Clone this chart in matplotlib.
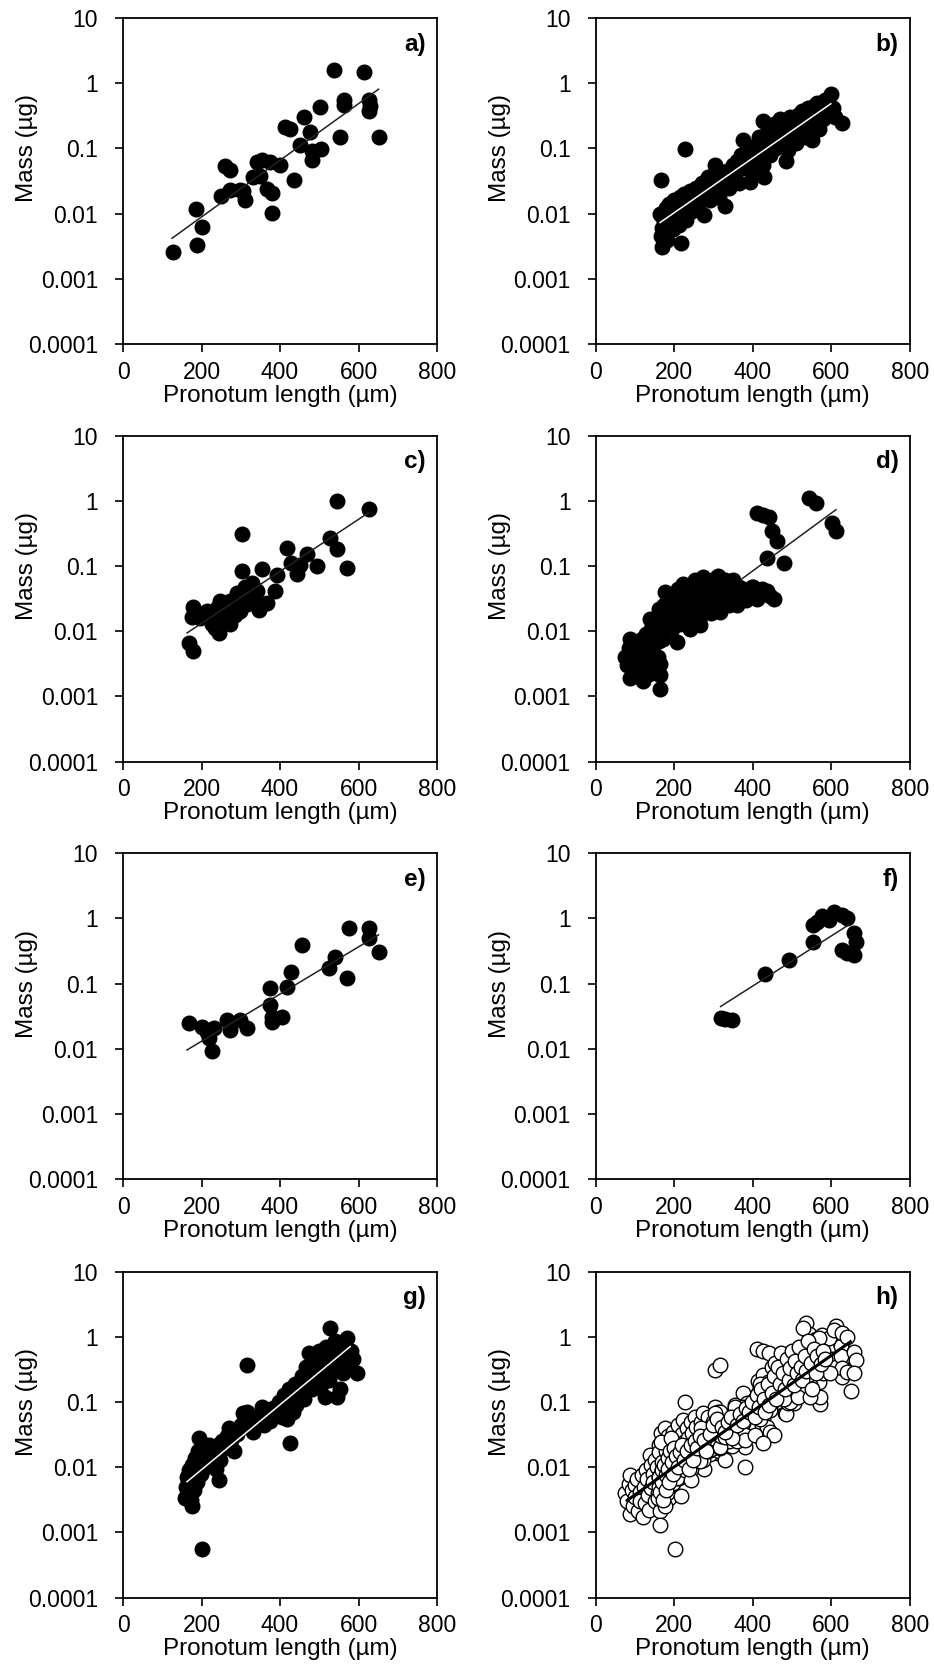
import matplotlib.pyplot as plt
import numpy as np

plt.rcParams['font.family'] = ['Liberation Sans', 'DejaVu Sans']

# a)
a_x = [127, 187, 188, 200, 250, 259, 272, 273, 297, 305, 312, 331, 341, 350, 354, 367, 375, 380, 380,
       401, 413, 426, 435, 452, 460, 477, 481, 481, 503, 504, 537, 552, 562, 562, 613, 626, 626, 628, 651]
a_y = [0.00255, 0.0118, 0.00334, 0.0062, 0.0188, 0.053, 0.046, 0.0233, 0.0233, 0.022, 0.0164, 0.037, 0.063,
       0.038, 0.067, 0.0238, 0.061, 0.0207, 0.0102, 0.056, 0.21, 0.20, 0.033, 0.114, 0.30, 0.177, 0.067,
       0.09, 0.43, 0.098, 1.61, 0.15, 0.56, 0.47, 1.47, 0.55, 0.37, 0.45, 0.15]
a_fit_x = [125, 651]
a_fit_y = [0.0042, 0.81]

# b)
b_x = [165, 166, 167, 168, 170, 172, 175, 178, 180, 182, 185, 188, 190, 195, 198, 200, 205, 210, 212, 215,
       217, 220, 225, 228, 230, 235, 240, 245, 250, 255, 260, 265, 270, 275, 280, 285, 290, 295, 300, 305,
       310, 315, 320, 325, 329, 335, 340, 345, 350, 355, 360, 365, 370, 376, 380, 385, 390, 393, 398, 400,
       405, 410, 415, 420, 425, 427, 430, 435, 440, 445, 450, 455, 460, 465, 470, 475, 480, 485, 491, 495,
       500, 505, 510, 515, 520, 525, 530, 535, 540, 545, 550, 555, 560, 565, 570, 575, 580, 585, 590, 599,
       605, 610, 627]
b_y = [0.010, 0.033, 0.0045, 0.0031, 0.006, 0.0085, 0.0052, 0.012, 0.0068, 0.0040, 0.0095, 0.014, 0.0075,
       0.011, 0.0058, 0.016, 0.009, 0.013, 0.0068, 0.018, 0.0036, 0.0105, 0.020, 0.099, 0.008, 0.015, 0.022,
       0.011, 0.017, 0.025, 0.013, 0.020, 0.030, 0.0095, 0.024, 0.036, 0.016, 0.028, 0.022, 0.056, 0.034,
       0.018, 0.040, 0.028, 0.0129, 0.045, 0.025, 0.035, 0.055, 0.040, 0.065, 0.030, 0.080, 0.136, 0.050,
       0.095, 0.060, 0.031, 0.085, 0.045, 0.11, 0.070, 0.15, 0.090, 0.055, 0.26, 0.037, 0.12, 0.20, 0.080,
       0.15, 0.24, 0.10, 0.18, 0.28, 0.13, 0.22, 0.065, 0.095, 0.30, 0.16, 0.25, 0.12, 0.33, 0.20, 0.38,
       0.28, 0.15, 0.42, 0.22, 0.136, 0.45, 0.30, 0.50, 0.20, 0.38, 0.28, 0.55, 0.35, 0.69, 0.42, 0.30, 0.245]
b_fit_x = [164, 599]
b_fit_y = [0.0073, 0.485]

# c)
c_x = [167, 178, 178, 176, 197, 214, 218, 227, 231, 235, 240, 244, 248, 252, 265, 273, 273, 282, 286, 290,
       295, 299, 303, 303, 312, 316, 321, 329, 333, 341, 346, 354, 367, 388, 392, 418, 427, 444, 452, 469,
       494, 528, 545, 545, 571, 626]
c_y = [0.0066, 0.0049, 0.0234, 0.0166, 0.016, 0.0205, 0.016, 0.0127, 0.018, 0.0114, 0.023, 0.0093, 0.029,
       0.014, 0.019, 0.0127, 0.029, 0.024, 0.018, 0.039, 0.031, 0.0205, 0.084, 0.307, 0.047, 0.026, 0.035,
       0.055, 0.029, 0.041, 0.0214, 0.089, 0.027, 0.042, 0.074, 0.19, 0.112, 0.076, 0.104, 0.151, 0.10,
       0.273, 0.18, 0.98, 0.092, 0.745]
c_fit_x = [163, 626]
c_fit_y = [0.0094, 0.66]

# d)
d_x = [75, 80, 85, 87, 87, 92, 95, 100, 100, 105, 108, 112, 113, 118, 120, 122, 125, 128, 130, 133, 135,
       138, 140, 142, 145, 147, 150, 152, 155, 158, 160, 160, 162, 164, 164, 165, 168, 170, 172, 175, 177,
       180, 183, 185, 190, 195, 198, 200, 205, 206, 210, 212, 215, 220, 223, 225, 230, 232, 236, 240, 242,
       246, 250, 253, 256, 260, 264, 266, 268, 272, 274, 278, 282, 286, 290, 294, 298, 302, 306, 310, 312,
       316, 317, 322, 326, 330, 335, 340, 345, 350, 355, 359, 365, 370, 376, 382, 390, 398, 401, 411, 423,
       436, 444, 453, 411, 425, 441, 449, 462, 436, 479, 543, 560, 602, 611]
d_y = [0.0040, 0.0030, 0.0055, 0.0076, 0.0019, 0.0045, 0.0025, 0.0054, 0.0035, 0.0065, 0.0021, 0.0042,
       0.0030, 0.0075, 0.0017, 0.0050, 0.0028, 0.0090, 0.0065, 0.0038, 0.0022, 0.0155, 0.0110, 0.0048,
       0.0080, 0.0060, 0.0030, 0.013, 0.0100, 0.0040, 0.022, 0.017, 0.0070, 0.0032, 0.0021, 0.0013, 0.012,
       0.0090, 0.0076, 0.025, 0.040, 0.018, 0.013, 0.030, 0.022, 0.011, 0.035, 0.016, 0.027, 0.0068, 0.045,
       0.020, 0.013, 0.032, 0.053, 0.024, 0.016, 0.040, 0.028, 0.011, 0.050, 0.034, 0.020, 0.060, 0.042,
       0.026, 0.015, 0.0123, 0.050, 0.035, 0.068, 0.022, 0.045, 0.058, 0.030, 0.019, 0.050, 0.038, 0.065,
       0.026, 0.071, 0.045, 0.0195, 0.055, 0.033, 0.062, 0.040, 0.025, 0.052, 0.060, 0.035, 0.025, 0.048,
       0.040, 0.045, 0.030, 0.038, 0.047, 0.047, 0.031, 0.045, 0.041, 0.035, 0.031, 0.66, 0.60, 0.56, 0.35,
       0.24, 0.135, 0.112, 1.1, 0.93, 0.46, 0.35]
d_fit_x = [370, 612]
d_fit_y = [0.062, 0.73]

# e)
e_x = [167, 201, 214, 231, 218, 227, 265, 273, 299, 316, 375, 375, 380, 380, 405, 418, 427, 456, 524, 541,
       571, 575, 626, 626, 651]
e_y = [0.0247, 0.0219, 0.0184, 0.0207, 0.0146, 0.0091, 0.0278, 0.0195, 0.0278, 0.0207, 0.085, 0.047, 0.031,
       0.026, 0.031, 0.09, 0.153, 0.39, 0.172, 0.26, 0.121, 0.71, 0.72, 0.50, 0.31]
e_fit_x = [163, 651]
e_fit_y = [0.0096, 0.56]

# f)
f_x = [318, 330, 347, 431, 492, 553, 553, 564, 577, 594, 606, 628, 640, 657, 662, 628, 640, 657]
f_y = [0.030, 0.029, 0.0278, 0.141, 0.231, 0.43, 0.78, 0.88, 1.07, 0.955, 1.27, 1.13, 1.0, 0.59, 0.44,
       0.33, 0.29, 0.275]
f_fit_x = [318, 645]
f_fit_y = [0.0445, 0.80]

# g)
g_x = [201, 317, 426, 528, 570, 596, 176, 159, 193, 244, 269, 316, 354, 473, 515, 545, 418,
       160, 162, 165, 168, 170, 172, 175, 178, 180, 183, 185, 188, 190, 195, 198, 200, 205, 210, 215, 220,
       225, 232, 238, 242, 248, 252, 258, 265, 275, 282, 290, 300, 305, 310, 322, 330, 338, 345, 360, 368,
       375, 382, 390, 398, 405, 410, 415, 422, 428, 432, 438, 442, 448, 455, 460, 465, 470, 478, 482, 488,
       492, 496, 500, 505, 508, 512, 518, 522, 526, 532, 536, 540, 548, 552, 556, 560, 565, 575, 580, 585]
g_y = [0.00055, 0.37, 0.0233, 1.36, 0.95, 0.277, 0.0025, 0.0034, 0.028, 0.0064, 0.040, 0.071, 0.085, 0.56,
       0.121, 0.121, 0.054,
       0.0050, 0.0070, 0.0042, 0.0090, 0.0060, 0.0032, 0.011, 0.0075, 0.0045, 0.014, 0.0095, 0.0060, 0.018,
       0.012, 0.0080, 0.020, 0.015, 0.010, 0.017, 0.022, 0.013, 0.018, 0.0095, 0.022, 0.013, 0.025, 0.020,
       0.030, 0.026, 0.018, 0.032, 0.045, 0.068, 0.055, 0.042, 0.035, 0.050, 0.060, 0.045, 0.065, 0.052,
       0.080, 0.070, 0.10, 0.060, 0.13, 0.085, 0.16, 0.11, 0.07, 0.19, 0.09, 0.14, 0.25, 0.11, 0.35, 0.19,
       0.28, 0.16, 0.45, 0.22, 0.33, 0.60, 0.18, 0.42, 0.28, 0.70, 0.35, 0.22, 0.50, 0.30, 0.85, 0.40, 0.16,
       0.65, 0.28, 0.50, 0.38, 0.60, 0.45]
g_fit_x = [163, 579]
g_fit_y = [0.0060, 0.71]

# h) all data pooled
h_fit_x = [80, 649]
h_fit_y = [0.0031, 0.84]

panels = [
    ('a)', a_x, a_y, a_fit_x, a_fit_y),
    ('b)', b_x, b_y, b_fit_x, b_fit_y),
    ('c)', c_x, c_y, c_fit_x, c_fit_y),
    ('d)', d_x, d_y, d_fit_x, d_fit_y),
    ('e)', e_x, e_y, e_fit_x, e_fit_y),
    ('f)', f_x, f_y, f_fit_x, f_fit_y),
    ('g)', g_x, g_y, g_fit_x, g_fit_y),
]
h_x = np.concatenate([p[1] for p in panels])
h_y = np.concatenate([p[2] for p in panels])
panels.append(('h)', h_x, h_y, h_fit_x, h_fit_y))

x_ticks = [0, 200, 400, 600, 800]
y_ticks = [0.0001, 0.001, 0.01, 0.1, 1, 10]
y_tick_labels = ['0.0001', '0.001', '0.01', '0.1', '1', '10']

fig = plt.figure(figsize=(9.34, 16.71), dpi=100)
lefts = [0.1317, 0.6378]
bottoms = [0.7941, 0.5442, 0.2943, 0.0439]

for i, (label, x, y, fx, fy) in enumerate(panels):
    ax = fig.add_axes([lefts[i % 2], bottoms[i // 2], 0.3362, 0.1951])
    if label == 'h)':
        ax.plot(x, y, 'o', ls='none', ms=10.5, mfc='white', mec='black', mew=1.0, zorder=2)
        ax.plot(fx, fy, color='black', lw=2.2, zorder=3)
    else:
        ax.plot(x, y, 'o', ls='none', ms=10.5, color='black', zorder=2)
        line_color = 'white' if label in ('b)', 'g)') else '#222222'
        ax.plot(fx, fy, color=line_color, lw=1.1, zorder=3)

    ax.set_yscale('log')
    ax.set_xlim(0, 800)
    ax.set_ylim(0.0001, 10)
    ax.set_xticks(x_ticks)
    ax.set_yticks(y_ticks)
    ax.set_yticklabels(y_tick_labels)
    ax.yaxis.set_minor_locator(plt.NullLocator())
    ax.tick_params(axis='both', direction='out', length=6, width=1.2, labelsize=16.5)
    ax.tick_params(axis='y', pad=12)
    ax.tick_params(axis='x', pad=6)
    for sp in ax.spines.values():
        sp.set_linewidth(1.3)

    ax.set_xlabel('Pronotum length (µm)', fontsize=17.5)
    ax.set_ylabel('Mass (µg)', fontsize=17.5)
    ax.xaxis.set_label_coords(0.5, -0.125)
    ax.yaxis.set_label_coords(-0.27, 0.60)
    ax.text(0.965, 0.955, label, transform=ax.transAxes, ha='right', va='top',
            fontsize=17.5, fontweight='bold')

fig.savefig('out.png', dpi=100)
